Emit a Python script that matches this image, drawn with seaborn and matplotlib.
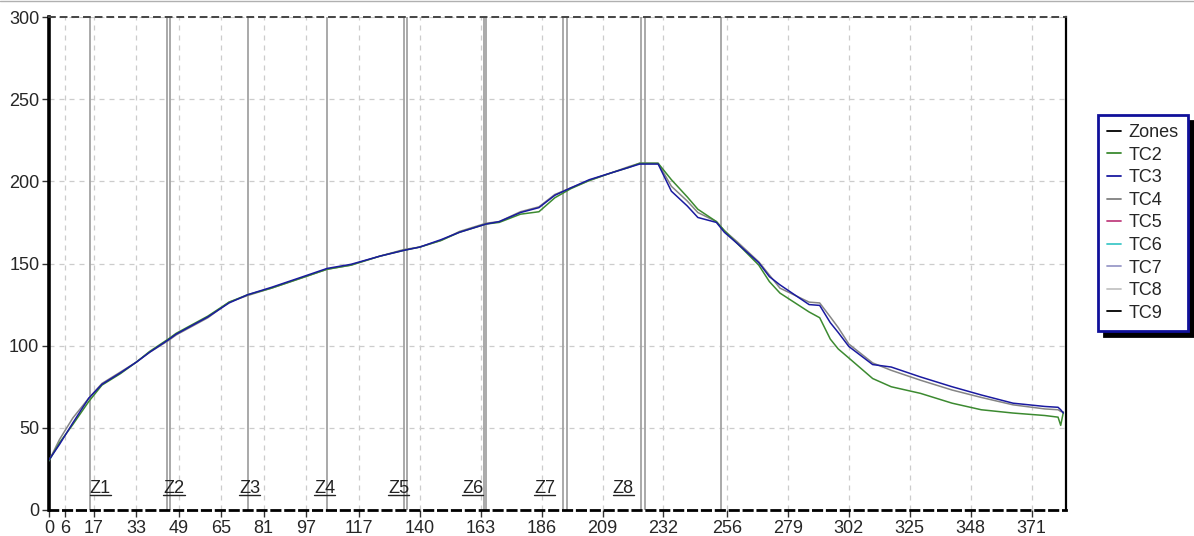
import numpy as np
import pandas as pd
import matplotlib
matplotlib.use("Agg")
import matplotlib.pyplot as plt
from matplotlib.lines import Line2D
from matplotlib.ticker import FixedLocator, MultipleLocator
import seaborn as sns

# ------------------------
# DATA
# ------------------------

time = [0, 4, 9, 15, 20, 27, 33, 38, 45, 48, 60, 68, 75, 84, 95, 105, 114, 125,
        134, 140, 148, 155, 165, 170, 178, 185, 191, 197, 204, 212, 219, 223, 230,
        235, 241, 245, 252, 255, 260, 268, 272, 276, 287, 291, 295, 298, 302, 311,
        318, 329, 341, 352, 364, 376, 381, 382, 383]

tc2 = [30, 41, 52, 66, 76, 83, 90, 96.5, 104, 107.5, 118, 126.5, 131, 135, 141,
       146.5, 149, 154.5, 158, 160, 164, 169, 174, 175, 180, 181.5, 190, 195.5,
       200.5, 205, 208.5, 211, 211, 201, 190.5, 183, 175.5, 170, 162, 149, 139,
       132, 120.5, 117, 104, 98, 92.5, 80, 75, 71, 65, 61, 59, 57.5, 56.5, 51.5, 59.5]

tc3 = [30.5, 40, 53, 68, 76.5, 83.5, 90, 96, 103.5, 107, 117.5, 126, 131, 135.5,
       141.5, 147, 149.5, 154.5, 158, 160, 164.5, 169, 174, 175.5, 181, 184, 191.5,
       196, 201, 205, 208.5, 210.5, 210.5, 194, 185, 178, 175, 169, 162, 150.5, 142,
       137, 125, 124.5, 114, 108, 99.5, 88.5, 87, 81, 75, 70, 65, 63, 62.5, 61, 59]

tc4 = [30, 43, 56, 68, 77, 84, 90, 96, 103, 106.5, 117, 126.5, 130.5, 135, 141,
       146.5, 149, 154.5, 158.5, 160, 164, 169.5, 174.5, 175.5, 181.5, 184.5, 192,
       196, 200.5, 205, 209, 211, 211, 197, 188, 181, 175.5, 170, 163, 151, 143, 135,
       126.5, 126, 117.5, 111, 101, 89.5, 85, 79, 73, 68.5, 64, 61.5, 61, 60, 59.5]

# zone boundaries (some zones are drawn as a pair of lines)
zone_lines = [15.5, 44.6, 45.7, 75.2, 105.0, 134.0, 135.2, 164.3, 165.0,
              194.1, 195.6, 223.6, 225.1, 253.8]
zone_labels = ["Z1", "Z2", "Z3", "Z4", "Z5", "Z6", "Z7", "Z8"]
zone_label_x = [15.3, 43.2, 71.8, 100.1, 128.0, 155.9, 183.1, 212.9]

x_ticks = [0, 6, 17, 33, 49, 65, 81, 97, 117, 140, 163, 186, 209, 232, 256, 279,
           302, 325, 348, 371]

legend_names = ["Zones", "TC2", "TC3", "TC4", "TC5", "TC6", "TC7", "TC8", "TC9"]
legend_colors = ["#000000", "#3c8a30", "#1a1aa0", "#808080", "#c0407f",
                 "#40c8c8", "#9a9ac8", "#c4c4c4", "#000000"]

# ------------------------
# PLOT
# ------------------------

sns.set_style("white")
plt.rcParams["font.family"] = ["Liberation Sans", "DejaVu Sans"]

fig = plt.figure(figsize=(11.94, 5.36), dpi=100)
ax = fig.add_axes([49 / 1194, 1 - 510 / 536, (1066 - 49) / 1194, (510 - 17) / 536])

df = pd.DataFrame({"time": time, "TC4": tc4, "TC2": tc2, "TC3": tc3})
long = df.melt(id_vars="time", var_name="probe", value_name="temp")
palette = {"TC2": "#3c8a30", "TC3": "#1a1aa0", "TC4": "#858585"}

for z in zone_lines:
    ax.axvline(z, color="#a2a2a2", linewidth=1.3, zorder=1)

sns.lineplot(data=long, x="time", y="temp", hue="probe",
             hue_order=["TC4", "TC2", "TC3"], palette=palette,
             linewidth=1.1, legend=False, ax=ax, zorder=3)

ax.set_xlim(0, 384)
ax.set_ylim(0, 300)

zone_texts = []
for name, xpos in zip(zone_labels, zone_label_x):
    t = ax.text(xpos, 8, name, fontsize=13, ha="left", va="bottom",
                color="#222222", zorder=4)
    zone_texts.append(t)

ax.xaxis.set_major_locator(FixedLocator(x_ticks))
ax.set_xticklabels([str(t) for t in x_ticks])
ax.yaxis.set_major_locator(MultipleLocator(50))
ax.yaxis.set_minor_locator(MultipleLocator(12.5))
ax.xaxis.set_minor_locator(MultipleLocator(5.75))
ax.set_xlabel("")
ax.set_ylabel("")

ax.grid(True, which="major", color="#cccccc", linestyle=(0, (4, 4)), linewidth=0.9)
ax.tick_params(axis="both", which="major", labelsize=13, length=5, width=1,
               direction="out", color="#333333", pad=2)
ax.tick_params(axis="both", which="minor", length=3, width=0.8, color="#555555")
ax.tick_params(axis="x", bottom=True)
ax.tick_params(axis="y", left=True)

ax.spines["left"].set_linewidth(2.6)
ax.spines["left"].set_color("black")
ax.spines["bottom"].set_linewidth(2)
ax.spines["bottom"].set_linestyle((0, (3, 2)))
ax.spines["bottom"].set_color("black")
ax.spines["top"].set_linewidth(1.4)
ax.spines["top"].set_linestyle((0, (3, 3)))
ax.spines["top"].set_color("#444444")
ax.spines["right"].set_linewidth(1.6)
ax.spines["right"].set_color("black")

# underline the zone labels
fig.canvas.draw()
renderer = fig.canvas.get_renderer()
inv = ax.transData.inverted()
for t in zone_texts:
    bb = t.get_window_extent(renderer)
    (x0, y0), (x1, _) = inv.transform([(bb.x0, bb.y0 + 2), (bb.x1, bb.y0 + 2)])
    ax.plot([x0, x1], [y0, y0], color="#222222", linewidth=1, zorder=4)

handles = [Line2D([0], [0], color=c, linewidth=1.3) for c in legend_colors]
leg = fig.legend(handles, legend_names, loc="upper left",
                 bbox_to_anchor=(1098 / 1194, 1 - 115 / 536),
                 bbox_transform=fig.transFigure, fontsize=13,
                 handlelength=0.8, handletextpad=0.4, labelspacing=0.31,
                 borderpad=0.5, borderaxespad=0, fancybox=False, framealpha=1,
                 shadow={"color": "black", "alpha": 1, "ox": 4, "oy": -4})
leg.get_frame().set_edgecolor("#10109a")
leg.get_frame().set_linewidth(2)

fig.add_artist(Line2D([0, 1], [0.998, 0.998], color="#b0b0b0", linewidth=1,
                      transform=fig.transFigure))

fig.savefig("out.png", dpi=100)
